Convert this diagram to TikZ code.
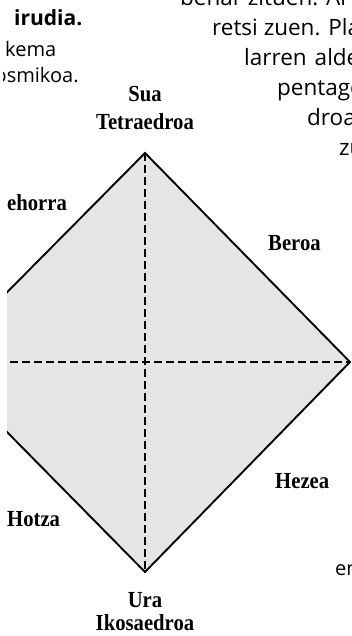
\documentclass[tikz,border=0pt]{standalone}
\usepackage{fontspec}
\setmainfont{Liberation Serif}
\newfontfamily\labelserif[FakeStretch=0.9]{Liberation Serif}
\newfontfamily\bodysans{Open Sans}

\begin{document}
\begin{tikzpicture}[x=1pt,y=-1pt,
  lbl/.style={font=\labelserif\bfseries\fontsize{23}{23}\selectfont, inner sep=0pt},
  body/.style={font=\bodysans\fontsize{22.5}{22.5}\selectfont, anchor=base west, inner sep=0pt},
  side/.style={font=\bodysans\fontsize{20}{20}\selectfont, anchor=base west, inner sep=0pt},
  sidehead/.style={font=\bodysans\bfseries\fontsize{21}{21}\selectfont, anchor=base west, inner sep=0pt},
  edge/.style={line width=1.9pt, line join=miter},
  axis/.style={line width=1.1pt, dash pattern=on 8pt off 4pt}]
\useasboundingbox (0,0) rectangle (351,636);

% corners of the square of opposites
\coordinate (top) at (145,153);
\coordinate (right) at (350,362);
\coordinate (bottom) at (145,572);
\coordinate (left) at (-62,362);

\begin{scope}
  \clip (7,0) rectangle (352,636);
  \fill[black!10] (top) -- (right) -- (bottom) -- (left) -- cycle;
  \draw[axis] (left) -- (right);
  \draw[axis] (top) -- (bottom);
  \draw[edge] (left) -- (top) -- (right) -- (bottom) -- (left);
\end{scope}

% elements, solids and qualities
\node[lbl, anchor=base] (sua) at (145,102) {Sua};
\node[lbl, anchor=base] (tetra) at (145,130) {Tetraedroa};
\node[lbl, anchor=base] (ura) at (145,607) {Ura};
\node[lbl, anchor=base] (ikosa) at (145,630) {Ikosaedroa};
\node[lbl, anchor=base west] (beroa) at (268,250) {Beroa};
\node[lbl, anchor=base west] (hezea) at (275,488) {Hezea};

\begin{scope}
  \clip (3,0) rectangle (351,636);
  \node[lbl, anchor=base west] (lehorra) at (7,211) {ehorra};
  \node[lbl, anchor=base west] (hotza) at (7,526) {Hotza};
  % caption column
  \node[sidehead] (irudia) at (14,26) {irudia.};
  \node[side] (kema) at (5,57) {kema};
  \node[side] (kosmikoa) at (-5.5,83) {osmikoa.};
  % running text column
  \node[body] (l1) at (180,6) {behar zituen. Ar};
  \node[body] (l2) at (212,36) {retsi zuen. Pla};
  \node[body] (l3) at (244,66) {larren\hskip 8pt alde};
  \node[body] (l4) at (277,96) {pentago};
  \node[body] (l5) at (307,126) {droa};
  \node[body] (l6) at (339,156) {zu};
  \node[side] (l7) at (335,575) {en};
\end{scope}
\end{tikzpicture}
\end{document}
